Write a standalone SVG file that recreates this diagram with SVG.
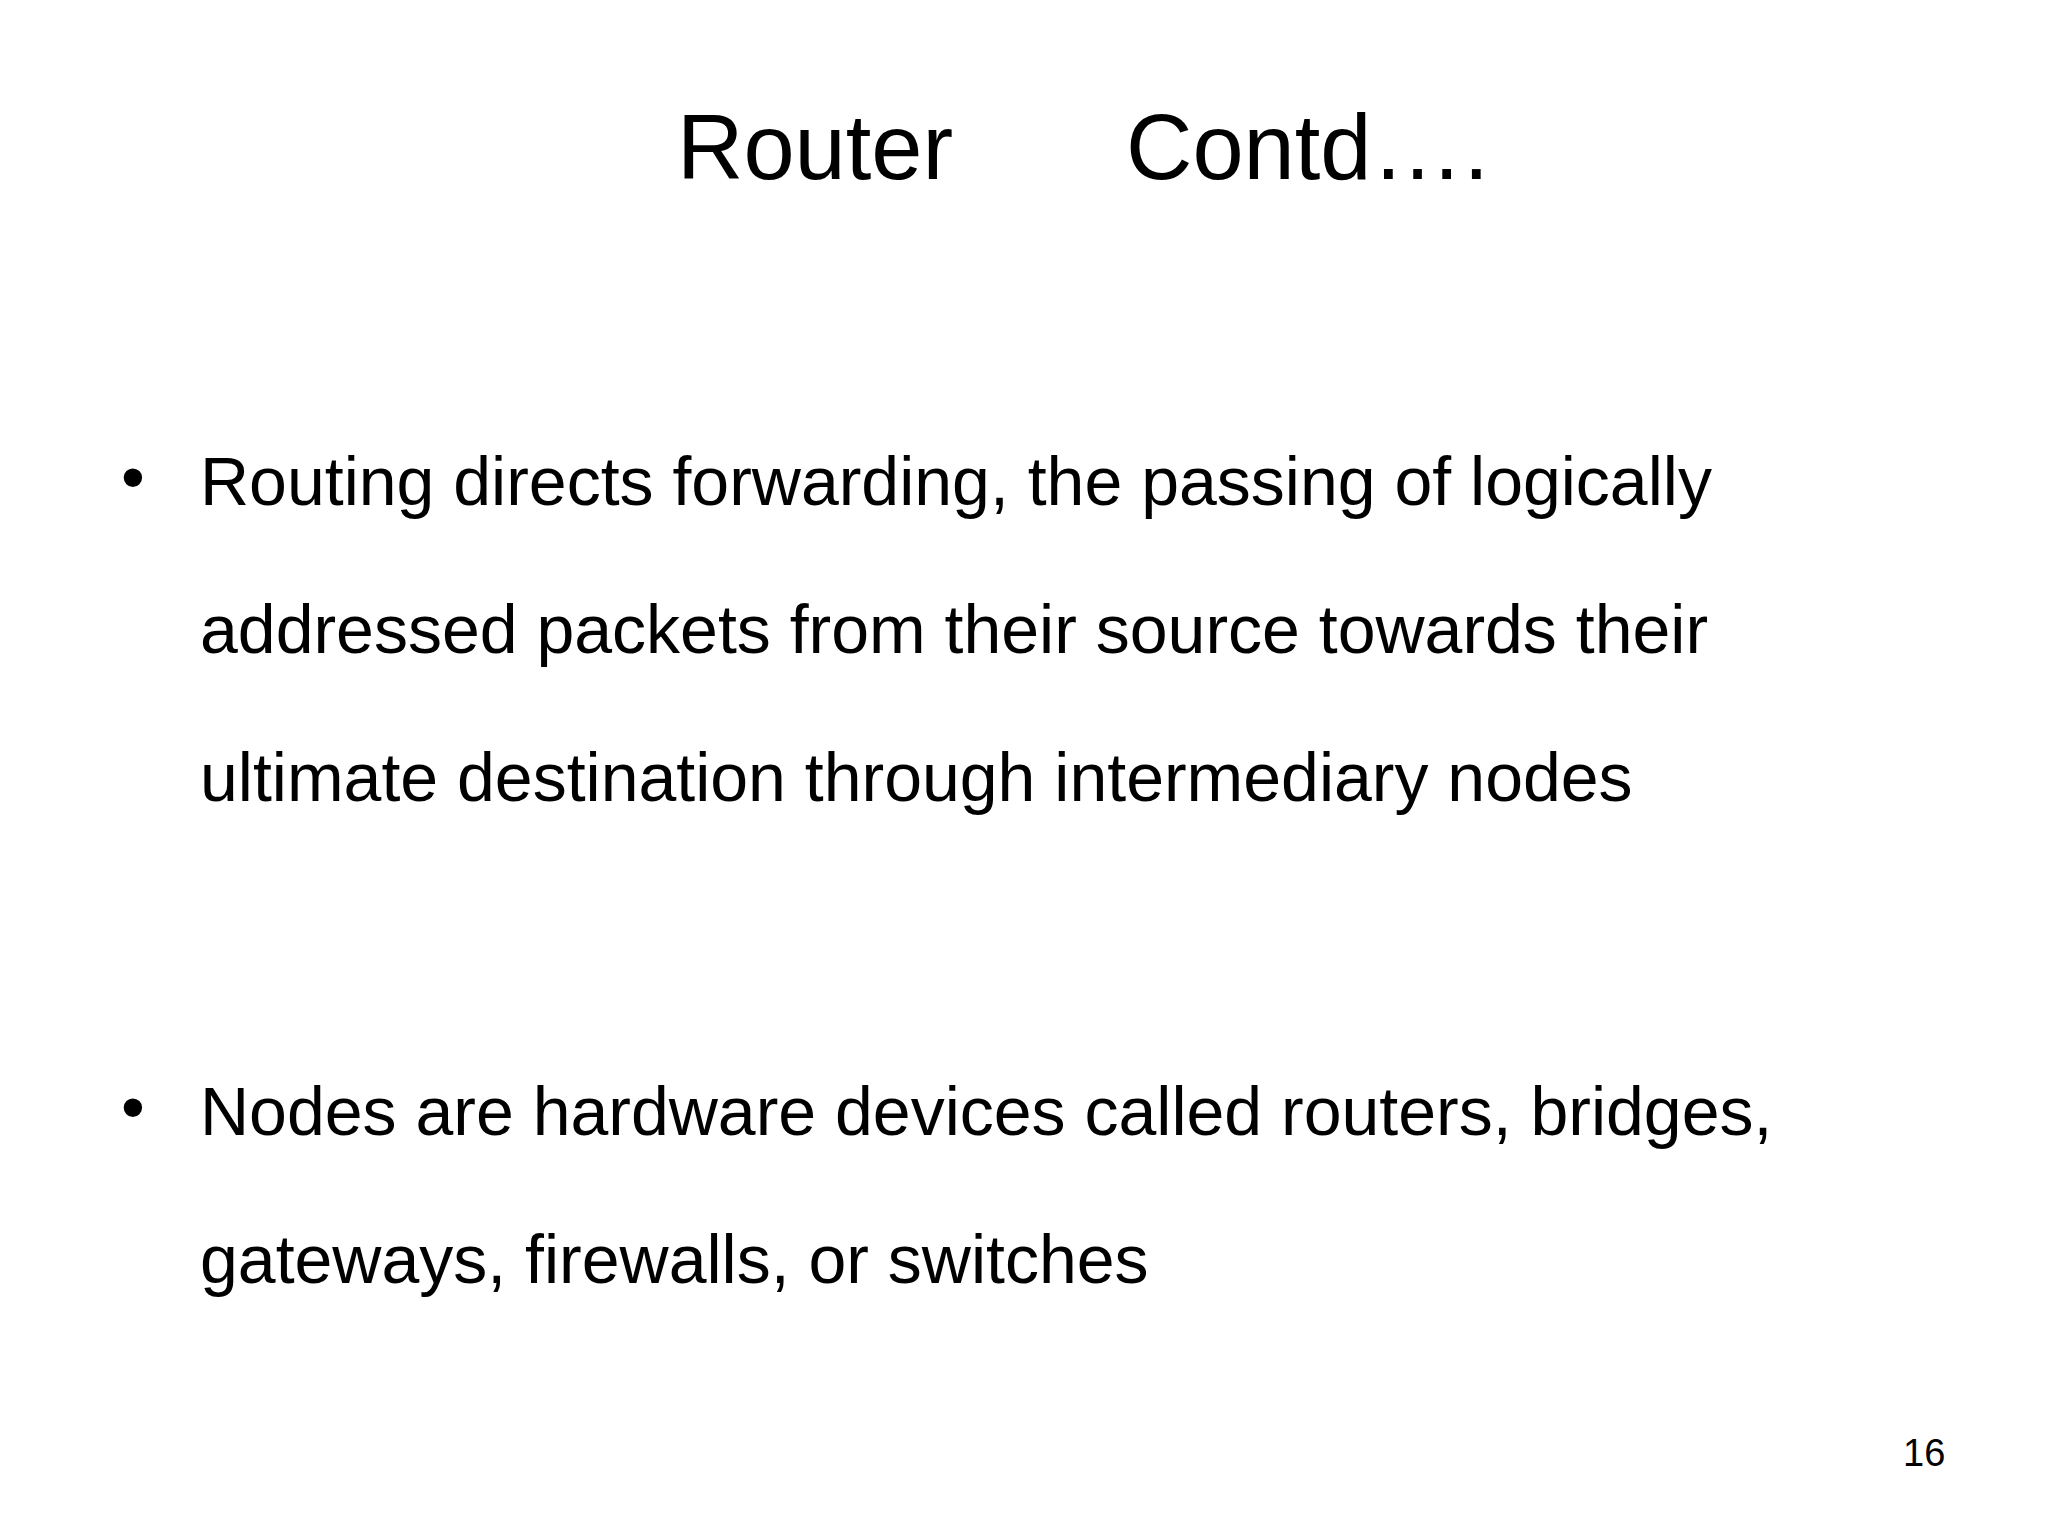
<svg xmlns="http://www.w3.org/2000/svg" width="2048" height="1536" viewBox="0 0 2048 1536">
<style>
text{font-family:"Liberation Sans",Arial,sans-serif;fill:#000}
.t{font-size:92px}
.b{font-size:68px}
.p{font-size:38px}
</style>
<rect width="2048" height="1536" fill="#fff"/>
<g id="title"><text class="t" x="677" y="179">Router</text><text class="t" x="1126" y="179">Contd….</text></g>
<g id="bullet1">
<text class="b" x="121" y="500">•</text>
<text class="b" x="200" y="505">Routing directs forwarding, the passing of logically</text>
<text class="b" x="200" y="653">addressed packets from their source towards their</text>
<text class="b" x="200" y="801">ultimate destination through intermediary nodes</text>
</g>
<g id="bullet2">
<text class="b" x="121" y="1130">•</text>
<text class="b" x="200" y="1135">Nodes are hardware devices called routers, bridges,</text>
<text class="b" x="200" y="1283">gateways, firewalls, or switches</text>
</g>
<g id="page"><text class="p" x="1903" y="1466">16</text></g>
</svg>
